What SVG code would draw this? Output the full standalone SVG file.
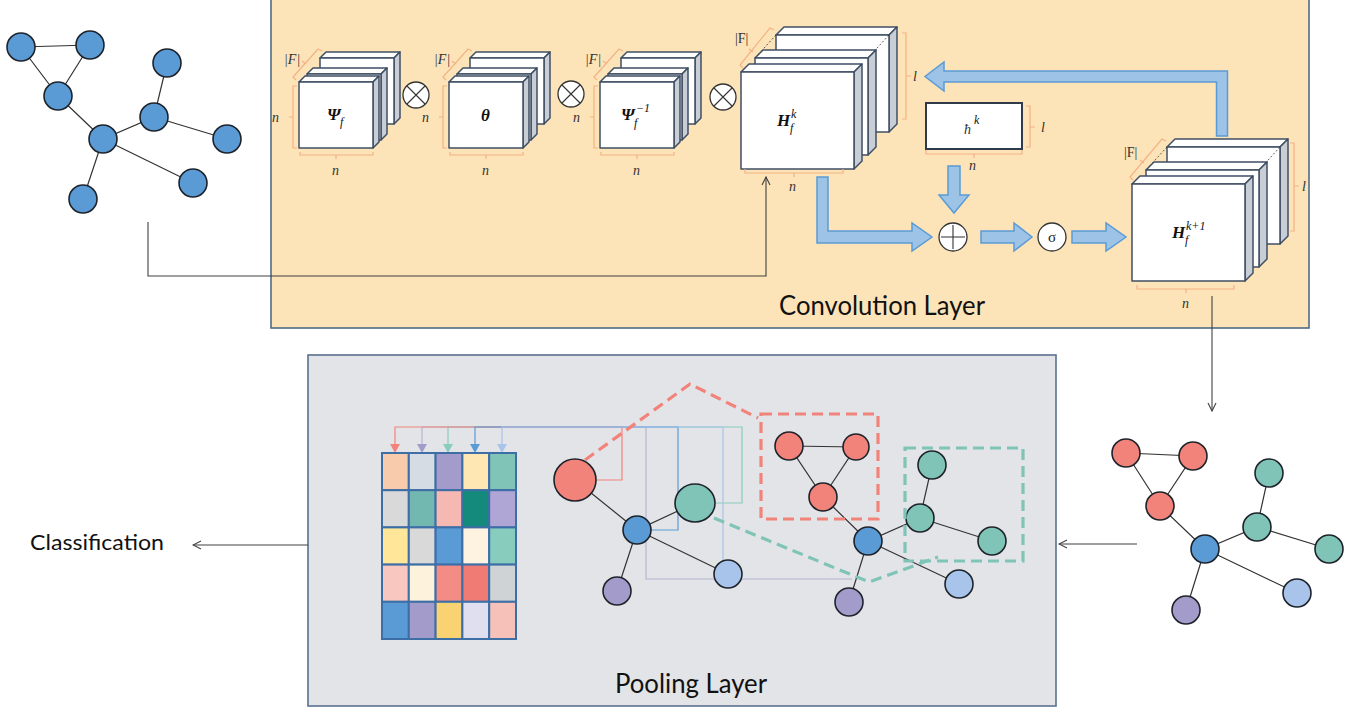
<svg xmlns="http://www.w3.org/2000/svg" xmlns:xlink="http://www.w3.org/1999/xlink" width="1358" height="711" viewBox="0 0 1358 711">
<style>
.node{stroke:#1e232b;stroke-width:1.6}
.nb{fill:#5b9bd5}.nr{fill:#f2837a}.nt{fill:#7fc4b6}.nl{fill:#a9c4eb}.np{fill:#a39bc9}
.edge{stroke:#333;stroke-width:1.2;fill:none}
.conn{stroke:#404040;stroke-width:1.1;fill:none}
.card{stroke:#3f4f63;stroke-width:1.5;stroke-linejoin:round}
.brk{stroke:#f4b183;stroke-width:1.2;fill:none}
.lbl{font-family:"Liberation Serif","DejaVu Serif",serif;font-style:italic;font-size:14px;fill:#333}
.lblu{font-family:"Liberation Serif","DejaVu Serif",serif;font-size:14px;fill:#333}
.math{font-family:"Liberation Serif","DejaVu Serif",serif;font-style:italic;font-weight:bold;font-size:17px;fill:#111}
.sub{font-family:"Liberation Serif","DejaVu Serif",serif;font-style:italic;font-size:12px;fill:#111}
.big{fill:#9dc3e6;stroke:#5b9bd5;stroke-width:1.5}
.op{fill:#fff;stroke:#333;stroke-width:1.3}
.title{font-family:Lato,"Open Sans",sans-serif;fill:#111}
.dash{fill:none;stroke-width:3.2;stroke-dasharray:11 6}
</style>
<defs>
<marker id="arr" markerWidth="10" markerHeight="10" refX="9" refY="5" orient="auto" markerUnits="userSpaceOnUse">
<path d="M1,1 L9,5 L1,9" fill="none" stroke="#404040" stroke-width="1.1"/>
</marker>
<g id="cardS">
<path class="card" d="M0,0 L6,-6 L80,-6 L74,0 Z" fill="#fff"/>
<path class="card" d="M74,0 L80,-6 L80,60 L74,66 Z" fill="#c9ced6"/>
<rect class="card" x="0" y="0" width="74" height="66" fill="#fff"/>
</g>
<g id="cardL">
<path class="card" d="M0,0 L8,-8 L121,-8 L113,0 Z" fill="#fff"/>
<path class="card" d="M113,0 L121,-8 L121,89 L113,97 Z" fill="#c9ced6"/>
<rect class="card" x="0" y="0" width="113" height="97" fill="#fff"/>
</g>
<g id="stackS">
<use xlink:href="#cardS" x="21" y="-24"/>
<use xlink:href="#cardS" x="8" y="-8"/>
<use xlink:href="#cardS" x="0" y="0"/>
</g>
<g id="stackL">
<use xlink:href="#cardL" x="35" y="-37"/>
<path d="M35,-37 L14,-14 M148,-37 L127,-14" stroke="#333" stroke-width="0.8" stroke-dasharray="2 2"/>
<use xlink:href="#cardL" x="14" y="-14"/>
<use xlink:href="#cardL" x="0" y="0"/>
</g>
</defs>

<rect width="1358" height="711" fill="#fff"/>

<!-- Layer boxes -->
<g id="conv-layer">
<rect x="271" y="-2" width="1038" height="330" fill="#fde4b8" stroke="#4f6b88" stroke-width="1.6"/>
<text class="title" x="779" y="315" font-size="26" textLength="206" lengthAdjust="spacingAndGlyphs">Convolution Layer</text>
</g>
<g id="pool-layer">
<rect x="308" y="355" width="748" height="351" fill="#e3e4e8" stroke="#5a7090" stroke-width="1.6"/>
<text class="title" x="615" y="693" font-size="26" textLength="152" lengthAdjust="spacingAndGlyphs">Pooling Layer</text>
</g>

<!-- Connectors -->
<g id="connectors">
<path class="conn" d="M148,222 V276 H766 V177" marker-end="url(#arr)"/>
<path class="conn" d="M1212,296 V411" marker-end="url(#arr)"/>
<path class="conn" d="M1137,544 H1059" marker-end="url(#arr)"/>
<path class="conn" d="M308,545 H193" marker-end="url(#arr)"/>
<path class="big" d="M1216.5,136 V82 H944 V91 L925,76.5 L944,62 V71 H1227.5 V136 Z"/>
<path class="big" d="M817,177 V243 H912 V251 L932,237 L912,223 V231 H828 V177 Z"/>
<path class="big" d="M948,166 V195 H939 L954,213 L969,195 H960 V166 Z"/>
<path class="big" d="M981,231 H1014 V223 L1032,237 L1014,251 V243 H981 Z"/>
<path class="big" d="M1072,231 H1106 V223 L1126,237 L1106,251 V243 H1072 Z"/>
</g>

<!-- Input graph -->
<g id="input-graph">
<path class="edge" d="M21,47 L90,45 M21,47 L58,96 M90,45 L58,96 M58,96 L103,139 L154,117 L167,63 M154,117 L227,139 M103,139 L193,183 M103,139 L83,199"/>
<circle class="node nb" cx="21" cy="47" r="14"/>
<circle class="node nb" cx="90" cy="45" r="14"/>
<circle class="node nb" cx="58" cy="96" r="14"/>
<circle class="node nb" cx="103" cy="139" r="14"/>
<circle class="node nb" cx="154" cy="117" r="14"/>
<circle class="node nb" cx="167" cy="63" r="14"/>
<circle class="node nb" cx="227" cy="139" r="14"/>
<circle class="node nb" cx="193" cy="183" r="14"/>
<circle class="node nb" cx="83" cy="199" r="14"/>
</g>

<!-- Psi_f block -->
<g id="psi">
<use xlink:href="#stackS" x="299" y="82"/>
<path class="brk" d="M297,86 H293 V148 H297 M293,117 H289 M300,152 V155 H373 V152 M336,155 V159 M296,80 L293,77 L318,49 L322,51 M306,64 L302,61"/>
<text class="lbl" x="284" y="64">|F|</text>
<text class="lbl" x="272" y="122">n</text>
<text class="lbl" x="332" y="175">n</text>
<text class="math" x="327" y="120">Ψ</text>
<text class="sub" x="340" y="126">f</text>
</g>
<g id="otimes1">
<circle class="op" cx="416" cy="95" r="13"/>
<path d="M407,86 L425,104 M425,86 L407,104" stroke="#333" stroke-width="1.1"/>
</g>
<!-- theta block -->
<g id="theta">
<use xlink:href="#stackS" x="449" y="82"/>
<path class="brk" d="M447,86 H443 V148 H447 M443,117 H439 M450,152 V155 H523 V152 M486,155 V159 M446,80 L443,77 L468,49 L472,51 M456,64 L452,61"/>
<text class="lbl" x="434" y="64">|F|</text>
<text class="lbl" x="422" y="122">n</text>
<text class="lbl" x="482" y="175">n</text>
<text class="math" x="481" y="121">θ</text>
</g>
<g id="otimes2">
<circle class="op" cx="571" cy="94" r="13"/>
<path d="M562,85 L580,103 M580,85 L562,103" stroke="#333" stroke-width="1.1"/>
</g>
<!-- Psi_f^-1 block -->
<g id="psi-inv">
<use xlink:href="#stackS" x="600" y="82"/>
<path class="brk" d="M598,86 H594 V148 H598 M594,117 H590 M601,152 V155 H674 V152 M637,155 V159 M597,80 L594,77 L619,49 L623,51 M607,64 L603,61"/>
<text class="lbl" x="585" y="64">|F|</text>
<text class="lbl" x="573" y="122">n</text>
<text class="lbl" x="633" y="175">n</text>
<text class="math" x="621" y="120">Ψ</text>
<text class="sub" x="634" y="127">f</text>
<text class="sub" x="636" y="112" font-style="normal">−1</text>
</g>
<g id="otimes3">
<circle class="op" cx="723" cy="97" r="13"/>
<path d="M714,88 L732,106 M732,88 L714,106" stroke="#333" stroke-width="1.1"/>
</g>
<!-- H_f^k block -->
<g id="hk-stack">
<use xlink:href="#stackL" x="741" y="72"/>
<path class="brk" d="M745,169 V173 H843 V169 M794,173 V177 M902,33 H906 V119 H902 M906,76 H911 M743,68 L740,65 L770,28 L774,30 M753,52 L749,49"/>
<text class="lblu" x="735" y="43">|F|</text>
<text class="lbl" x="789" y="191">n</text>
<text class="lbl" x="913" y="81">l</text>
<text class="math" x="777" y="126">H</text>
<text class="sub" x="790" y="132">f</text>
<text class="sub" x="791" y="118" font-style="normal">k</text>
</g>
<!-- h^k -->
<g id="hbar">
<rect x="926" y="103" width="96" height="46" fill="#fff" stroke="#2f3b4a" stroke-width="2"/>
<path class="brk" d="M1026,106 H1030 V147 H1026 M1030,127 H1035 M926,150 V154 H1022 V150 M974,154 V158"/>
<text class="lbl" x="1041" y="132">l</text>
<text class="lbl" x="969" y="170">n</text>
<text class="lbl" x="964" y="134" font-size="18">ħ</text>
<text class="sub" x="974" y="124" font-style="normal">k</text>
</g>
<g id="oplus">
<circle class="op" cx="953" cy="237" r="14"/>
<path d="M941,237 H965 M953,225 V249" stroke="#333" stroke-width="1.1"/>
</g>
<g id="sigma">
<circle class="op" cx="1052" cy="237" r="14"/>
<text x="1052" y="242" text-anchor="middle" font-family="'Liberation Serif',serif" font-size="15" fill="#222">σ</text>
</g>
<!-- H_f^{k+1} block -->
<g id="hk1-stack">
<use xlink:href="#stackL" x="1132" y="184"/>
<path class="brk" d="M1137,285 V289 H1234 V285 M1186,289 V293 M1290,143 H1294 V231 H1290 M1294,186 H1299 M1133,180 L1130,177 L1162,139 L1166,141 M1144,163 L1140,160"/>
<text class="lblu" x="1124" y="157">|F|</text>
<text class="lbl" x="1182" y="308">n</text>
<text class="lbl" x="1302" y="191">l</text>
<text class="math" x="1172" y="238">H</text>
<text class="sub" x="1185" y="244">f</text>
<text class="sub" x="1186" y="230" font-style="normal">k+1</text>
</g>

<!-- Output graph of conv -->
<g id="conv-output-graph">
<path class="edge" d="M1126,453 L1193,456 L1160,506 Z M1160,506 L1205,549 L1257,527 L1269,473 M1257,527 L1329,549 M1205,549 L1297,593 M1205,549 L1186,610"/>
<circle class="node nr" cx="1126" cy="453" r="14"/>
<circle class="node nr" cx="1193" cy="456" r="14"/>
<circle class="node nr" cx="1160" cy="506" r="14"/>
<circle class="node nb" cx="1205" cy="549" r="14"/>
<circle class="node nt" cx="1257" cy="527" r="14"/>
<circle class="node nt" cx="1269" cy="473" r="14"/>
<circle class="node nt" cx="1329" cy="549" r="14"/>
<circle class="node nl" cx="1297" cy="593" r="14"/>
<circle class="node np" cx="1186" cy="610" r="14"/>
</g>

<!-- Pooling matrix -->
<g id="matrix">
<g fill="none" stroke-width="1.2">
<path d="M448,450 V427 H742 V503 H716" stroke="#88ccbe"/>
<path d="M422,450 V427 H646 V579 H852" stroke="#b4b6d2"/>
<path d="M395,450 V427 H622 V480 H596" stroke="#f2837a"/>
<path d="M475,450 V427 H678 V530 H650" stroke="#5b9bd5"/>
<path d="M502,450 V427 H723 V561" stroke="#a9c4eb"/>
</g>
<path d="M390,444 L400,444 L395,453 Z" fill="#f2837a"/>
<path d="M417,444 L427,444 L422,453 Z" fill="#a39bc9"/>
<path d="M443,444 L453,444 L448,453 Z" fill="#88ccbe"/>
<path d="M470,444 L480,444 L475,453 Z" fill="#5b9bd5"/>
<path d="M497,444 L507,444 L502,453 Z" fill="#a9c4eb"/>
<g stroke="#3e6ea6" stroke-width="2">
<rect x="382" y="453" width="26.8" height="37.2" fill="#f8cbad"/>
<rect x="408.8" y="453" width="26.8" height="37.2" fill="#d6dce4"/>
<rect x="435.6" y="453" width="26.8" height="37.2" fill="#a39bc9"/>
<rect x="462.4" y="453" width="26.8" height="37.2" fill="#ffe7b3"/>
<rect x="489.2" y="453" width="26.8" height="37.2" fill="#7fc4b6"/>
<rect x="382" y="490.2" width="26.8" height="37.2" fill="#d9d9d9"/>
<rect x="408.8" y="490.2" width="26.8" height="37.2" fill="#72b8b0"/>
<rect x="435.6" y="490.2" width="26.8" height="37.2" fill="#f6b9b1"/>
<rect x="462.4" y="490.2" width="26.8" height="37.2" fill="#148a7c"/>
<rect x="489.2" y="490.2" width="26.8" height="37.2" fill="#b0a6d6"/>
<rect x="382" y="527.4" width="26.8" height="37.2" fill="#ffe699"/>
<rect x="408.8" y="527.4" width="26.8" height="37.2" fill="#d9d9d9"/>
<rect x="435.6" y="527.4" width="26.8" height="37.2" fill="#5b9bd5"/>
<rect x="462.4" y="527.4" width="26.8" height="37.2" fill="#fef3e0"/>
<rect x="489.2" y="527.4" width="26.8" height="37.2" fill="#88ccbe"/>
<rect x="382" y="564.6" width="26.8" height="37.2" fill="#f8c8c0"/>
<rect x="408.8" y="564.6" width="26.8" height="37.2" fill="#fdf2dc"/>
<rect x="435.6" y="564.6" width="26.8" height="37.2" fill="#f28c84"/>
<rect x="462.4" y="564.6" width="26.8" height="37.2" fill="#ef7b74"/>
<rect x="489.2" y="564.6" width="26.8" height="37.2" fill="#d0d3d6"/>
<rect x="382" y="601.8" width="26.8" height="37.2" fill="#5b9bd5"/>
<rect x="408.8" y="601.8" width="26.8" height="37.2" fill="#a39bc9"/>
<rect x="435.6" y="601.8" width="26.8" height="37.2" fill="#f9d272"/>
<rect x="462.4" y="601.8" width="26.8" height="37.2" fill="#e0dff0"/>
<rect x="489.2" y="601.8" width="26.8" height="37.2" fill="#f6c1b8"/>
</g>
</g>

<!-- Pooled graph (left) -->
<g id="pooled-graph">
<path class="edge" d="M575,480 L637,530 L695,503 M637,530 L728,574 M637,530 L617,591"/>
<circle class="node nr" cx="575" cy="480" r="21"/>
<circle class="node nb" cx="637" cy="530" r="14"/>
<ellipse class="node nt" cx="695" cy="503" rx="20" ry="19"/>
<circle class="node nl" cx="728" cy="574" r="14"/>
<circle class="node np" cx="617" cy="591" r="14"/>
</g>

<!-- Original graph with clusters -->
<g id="cluster-graph">
<path class="edge" d="M789,446 L856,447 L823,497 Z M823,497 L868,541 L920,518 L932,465 M920,518 L992,541 M868,541 L959,584 M868,541 L849,602"/>
<circle class="node nr" cx="789" cy="446" r="14"/>
<circle class="node nr" cx="856" cy="447" r="13"/>
<circle class="node nr" cx="823" cy="497" r="14"/>
<circle class="node nb" cx="868" cy="541" r="14"/>
<circle class="node nt" cx="920" cy="518" r="14"/>
<circle class="node nt" cx="932" cy="465" r="14"/>
<circle class="node nt" cx="992" cy="541" r="14"/>
<circle class="node nl" cx="959" cy="584" r="14"/>
<circle class="node np" cx="849" cy="602" r="14"/>
</g>
<g id="cluster-red">
<rect class="dash" x="761" y="414" width="117" height="105" stroke="#f2837a"/>
<path class="dash" d="M585,460 L690,384 L758,418" stroke="#f2837a"/>
</g>
<g id="cluster-teal">
<rect class="dash" x="905" y="448" width="118" height="113" stroke="#7fc4b6"/>
<path class="dash" d="M714,518 L869,582 L938,557" stroke="#7fc4b6"/>
</g>

<text id="classification" class="title" x="30" y="550" font-size="22" textLength="134" lengthAdjust="spacingAndGlyphs">Classification</text>
</svg>
